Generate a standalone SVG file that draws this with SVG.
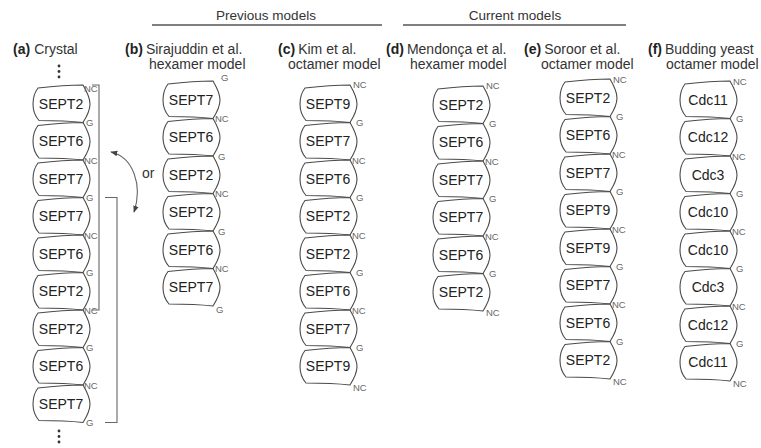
<svg xmlns="http://www.w3.org/2000/svg" width="761" height="448" viewBox="0 0 761 448">
<style>
.sub{fill:#fff;stroke:#4a4a4a;stroke-width:1.1}
.nm{font-family:"Liberation Sans",Arial,sans-serif;font-size:14px;fill:#222;text-anchor:middle}
.lb{font-family:"Liberation Sans",Arial,sans-serif;font-size:9.5px;fill:#666}
.hd{font-family:"Liberation Sans",Arial,sans-serif;font-size:14px;fill:#333}
.hb{font-family:"Liberation Sans",Arial,sans-serif;font-size:14px;font-weight:bold;fill:#222}
.tt{font-family:"Liberation Sans",Arial,sans-serif;font-size:13.5px;fill:#333;text-anchor:middle}
.ln{stroke:#555;stroke-width:1.3;fill:none}
.br{stroke:#666;stroke-width:1.1;fill:none}
.dot{fill:#333}
</style>
<defs>
<path id="s" class="sub" d="M50,0 C53.5,6 57,12 57,19 C57,26 53.5,32 50,37.5 C37,36 20,35.5 6,35.5 C2,31 0,25 0,19 C0,13 1.5,7.5 5,3 C18,1.5 36,0 50,0 Z"/>
<marker id="ah" viewBox="0 0 10 10" refX="9" refY="5" markerWidth="7" markerHeight="7" orient="auto-start-reverse" markerUnits="userSpaceOnUse"><path d="M0,1 L10,5 L0,9 Z" fill="#444"/></marker>
</defs>

<g id="titles">
<text class="tt" x="266" y="20">Previous models</text>
<line class="ln" x1="152" y1="25" x2="382" y2="25"/>
<text class="tt" x="515" y="20">Current models</text>
<line class="ln" x1="403" y1="25" x2="626" y2="25"/>
</g>

<g id="headings">
<text x="13" y="54"><tspan class="hb">(a)</tspan><tspan class="hd" dx="4">Crystal</tspan></text>
<text x="125" y="54"><tspan class="hb">(b)</tspan><tspan class="hd" dx="3">Sirajuddin et al.</tspan></text>
<text class="hd" x="149" y="69">hexamer model</text>
<text x="278" y="54"><tspan class="hb">(c)</tspan><tspan class="hd" dx="3">Kim et al.</tspan></text>
<text class="hd" x="288" y="69">octamer model</text>
<text x="386" y="54"><tspan class="hb">(d)</tspan><tspan class="hd" dx="3">Mendonça et al.</tspan></text>
<text class="hd" x="410" y="69">hexamer model</text>
<text x="524" y="54"><tspan class="hb">(e)</tspan><tspan class="hd" dx="3">Soroor et al.</tspan></text>
<text class="hd" x="541" y="69">octamer model</text>
<text x="648" y="54"><tspan class="hb">(f)</tspan><tspan class="hd" dx="3">Budding yeast</tspan></text>
<text class="hd" x="666" y="69">octamer model</text>
</g>

<g id="colA">
<circle class="dot" cx="59" cy="66" r="1.4"/><circle class="dot" cx="59" cy="71.5" r="1.4"/><circle class="dot" cx="59" cy="77" r="1.4"/>
<g id="a1"><use href="#s" x="33" y="85"/><text class="nm" x="61" y="108.5">SEPT2</text></g>
<g id="a2"><use href="#s" x="33" y="122.5"/><text class="nm" x="61" y="146">SEPT6</text></g>
<g id="a3"><use href="#s" x="33" y="160"/><text class="nm" x="61" y="183.5">SEPT7</text></g>
<g id="a4"><use href="#s" x="33" y="197.5"/><text class="nm" x="61" y="221">SEPT7</text></g>
<g id="a5"><use href="#s" x="33" y="235"/><text class="nm" x="61" y="258.5">SEPT6</text></g>
<g id="a6"><use href="#s" x="33" y="272.5"/><text class="nm" x="61" y="296">SEPT2</text></g>
<g id="a7"><use href="#s" x="33" y="310"/><text class="nm" x="61" y="333.5">SEPT2</text></g>
<g id="a8"><use href="#s" x="33" y="347.5"/><text class="nm" x="61" y="371">SEPT6</text></g>
<g id="a9"><use href="#s" x="33" y="385"/><text class="nm" x="61" y="408.5">SEPT7</text></g>
<text class="lb" x="84" y="92">NC</text>
<text class="lb" x="86" y="126">G</text>
<text class="lb" x="84" y="163.5">NC</text>
<text class="lb" x="86" y="201">G</text>
<text class="lb" x="84" y="238.5">NC</text>
<text class="lb" x="86" y="276">G</text>
<text class="lb" x="84" y="313.5">NC</text>
<text class="lb" x="86" y="351">G</text>
<text class="lb" x="84" y="388.5">NC</text>
<text class="lb" x="86" y="426">G</text>
<circle class="dot" cx="59" cy="431" r="1.4"/><circle class="dot" cx="59" cy="436.5" r="1.4"/><circle class="dot" cx="59" cy="442" r="1.4"/>
</g>

<g id="colB">
<g id="b1"><use href="#s" x="163" y="81"/><text class="nm" x="191" y="104.5">SEPT7</text></g>
<g id="b2"><use href="#s" x="163" y="118.5"/><text class="nm" x="191" y="142">SEPT6</text></g>
<g id="b3"><use href="#s" x="163" y="156"/><text class="nm" x="191" y="179.5">SEPT2</text></g>
<g id="b4"><use href="#s" x="163" y="193.5"/><text class="nm" x="191" y="217">SEPT2</text></g>
<g id="b5"><use href="#s" x="163" y="231"/><text class="nm" x="191" y="254.5">SEPT6</text></g>
<g id="b6"><use href="#s" x="163" y="268.5"/><text class="nm" x="191" y="292">SEPT7</text></g>
<text class="lb" x="221" y="81">G</text>
<text class="lb" x="215" y="122">NC</text>
<text class="lb" x="218" y="159.5">G</text>
<text class="lb" x="215" y="197">NC</text>
<text class="lb" x="218" y="234.5">G</text>
<text class="lb" x="215" y="272">NC</text>
<text class="lb" x="216" y="313">G</text>
</g>

<g id="colC">
<g id="c1"><use href="#s" x="300" y="85"/><text class="nm" x="328" y="108.5">SEPT9</text></g>
<g id="c2"><use href="#s" x="300" y="122.5"/><text class="nm" x="328" y="146">SEPT7</text></g>
<g id="c3"><use href="#s" x="300" y="160"/><text class="nm" x="328" y="183.5">SEPT6</text></g>
<g id="c4"><use href="#s" x="300" y="197.5"/><text class="nm" x="328" y="221">SEPT2</text></g>
<g id="c5"><use href="#s" x="300" y="235"/><text class="nm" x="328" y="258.5">SEPT2</text></g>
<g id="c6"><use href="#s" x="300" y="272.5"/><text class="nm" x="328" y="296">SEPT6</text></g>
<g id="c7"><use href="#s" x="300" y="310"/><text class="nm" x="328" y="333.5">SEPT7</text></g>
<g id="c8"><use href="#s" x="300" y="347.5"/><text class="nm" x="328" y="371">SEPT9</text></g>
<text class="lb" x="353" y="88">NC</text>
<text class="lb" x="356" y="126">G</text>
<text class="lb" x="352" y="163.5">NC</text>
<text class="lb" x="356" y="201">G</text>
<text class="lb" x="352" y="238.5">NC</text>
<text class="lb" x="356" y="276">G</text>
<text class="lb" x="352" y="313.5">NC</text>
<text class="lb" x="356" y="351">G</text>
<text class="lb" x="353" y="391">NC</text>
</g>

<g id="colD">
<g id="d1"><use href="#s" x="433" y="86"/><text class="nm" x="461" y="109.5">SEPT2</text></g>
<g id="d2"><use href="#s" x="433" y="123.5"/><text class="nm" x="461" y="147">SEPT6</text></g>
<g id="d3"><use href="#s" x="433" y="161"/><text class="nm" x="461" y="184.5">SEPT7</text></g>
<g id="d4"><use href="#s" x="433" y="198.5"/><text class="nm" x="461" y="222">SEPT7</text></g>
<g id="d5"><use href="#s" x="433" y="236"/><text class="nm" x="461" y="259.5">SEPT6</text></g>
<g id="d6"><use href="#s" x="433" y="273.5"/><text class="nm" x="461" y="297">SEPT2</text></g>
<text class="lb" x="486" y="89">NC</text>
<text class="lb" x="489" y="127">G</text>
<text class="lb" x="485" y="164.5">NC</text>
<text class="lb" x="489" y="202">G</text>
<text class="lb" x="485" y="239.5">NC</text>
<text class="lb" x="489" y="277">G</text>
<text class="lb" x="486" y="316">NC</text>
</g>

<g id="colE">
<g id="e1"><use href="#s" x="560" y="79"/><text class="nm" x="588" y="102.5">SEPT2</text></g>
<g id="e2"><use href="#s" x="560" y="116.5"/><text class="nm" x="588" y="140">SEPT6</text></g>
<g id="e3"><use href="#s" x="560" y="154"/><text class="nm" x="588" y="177.5">SEPT7</text></g>
<g id="e4"><use href="#s" x="560" y="191.5"/><text class="nm" x="588" y="215">SEPT9</text></g>
<g id="e5"><use href="#s" x="560" y="229"/><text class="nm" x="588" y="252.5">SEPT9</text></g>
<g id="e6"><use href="#s" x="560" y="266.5"/><text class="nm" x="588" y="290">SEPT7</text></g>
<g id="e7"><use href="#s" x="560" y="304"/><text class="nm" x="588" y="327.5">SEPT6</text></g>
<g id="e8"><use href="#s" x="560" y="341.5"/><text class="nm" x="588" y="365">SEPT2</text></g>
<text class="lb" x="613" y="83">NC</text>
<text class="lb" x="616" y="120">G</text>
<text class="lb" x="612" y="157.5">NC</text>
<text class="lb" x="616" y="195">G</text>
<text class="lb" x="612" y="232.5">NC</text>
<text class="lb" x="616" y="270">G</text>
<text class="lb" x="612" y="307.5">NC</text>
<text class="lb" x="616" y="345">G</text>
<text class="lb" x="613" y="385">NC</text>
</g>

<g id="colF">
<g id="f1"><use href="#s" x="680" y="81"/><text class="nm" x="708" y="104.5">Cdc11</text></g>
<g id="f2"><use href="#s" x="680" y="118.5"/><text class="nm" x="708" y="142">Cdc12</text></g>
<g id="f3"><use href="#s" x="680" y="156"/><text class="nm" x="708" y="179.5">Cdc3</text></g>
<g id="f4"><use href="#s" x="680" y="193.5"/><text class="nm" x="708" y="217">Cdc10</text></g>
<g id="f5"><use href="#s" x="680" y="231"/><text class="nm" x="708" y="254.5">Cdc10</text></g>
<g id="f6"><use href="#s" x="680" y="268.5"/><text class="nm" x="708" y="292">Cdc3</text></g>
<g id="f7"><use href="#s" x="680" y="306"/><text class="nm" x="708" y="329.5">Cdc12</text></g>
<g id="f8"><use href="#s" x="680" y="343.5"/><text class="nm" x="708" y="367">Cdc11</text></g>
<text class="lb" x="733" y="85">NC</text>
<text class="lb" x="736" y="122">G</text>
<text class="lb" x="732" y="159.5">NC</text>
<text class="lb" x="736" y="197">G</text>
<text class="lb" x="732" y="234.5">NC</text>
<text class="lb" x="736" y="272">G</text>
<text class="lb" x="732" y="309.5">NC</text>
<text class="lb" x="736" y="347">G</text>
<text class="lb" x="733" y="387">NC</text>
</g>

<g id="connectors">
<path class="br" d="M92,85 H99 V310 H92"/>
<path class="br" d="M105,197.5 H117 V422.5 H105"/>
<path class="br" d="M111,152 C133,157 143,185 134,212" marker-start="url(#ah)" marker-end="url(#ah)"/>
<text class="hd" x="142" y="178">or</text>
</g>
</svg>
